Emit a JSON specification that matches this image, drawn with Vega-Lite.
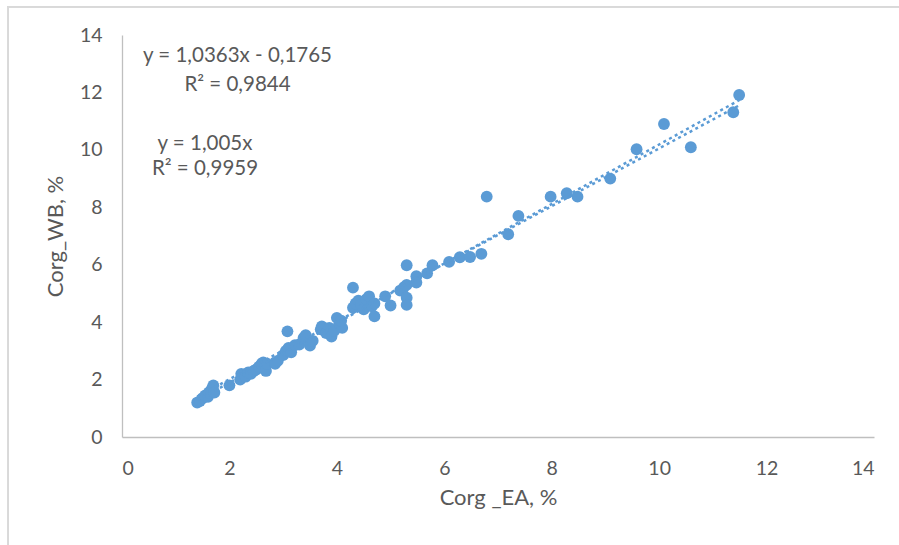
{
  "$schema": "https://vega.github.io/schema/vega-lite/v6.json",
  "width": 752,
  "height": 402,
  "autosize": {"type": "none"},
  "padding": {"left": 122, "top": 35, "right": 25, "bottom": 108},
  "background": "white",
  "config": {
    "view": {"stroke": null},
    "font": "Lato",
    "axis": {
      "domainColor": "#BFBFBF",
      "domainWidth": 1.3,
      "ticks": false,
      "grid": false,
      "labelColor": "#595959",
      "labelFont": "Lato",
      "labelFontSize": 19.5,
      "titleColor": "#595959",
      "titleFont": "Lato",
      "titleFontSize": 22,
      "titleFontWeight": "normal"
    }
  },
  "datasets": {
    "points": [
      {"ea": 1.40, "wb": 1.20}, {"ea": 1.45, "wb": 1.25}, {"ea": 1.50, "wb": 1.35}, {"ea": 1.55, "wb": 1.45},
      {"ea": 1.60, "wb": 1.40}, {"ea": 1.62, "wb": 1.55}, {"ea": 1.65, "wb": 1.60}, {"ea": 1.68, "wb": 1.70},
      {"ea": 1.70, "wb": 1.80}, {"ea": 1.72, "wb": 1.55}, {"ea": 2.00, "wb": 1.80}, {"ea": 2.20, "wb": 2.00},
      {"ea": 2.22, "wb": 2.20}, {"ea": 2.30, "wb": 2.10}, {"ea": 2.35, "wb": 2.25}, {"ea": 2.40, "wb": 2.20},
      {"ea": 2.45, "wb": 2.30}, {"ea": 2.50, "wb": 2.35}, {"ea": 2.55, "wb": 2.45}, {"ea": 2.60, "wb": 2.55},
      {"ea": 2.63, "wb": 2.60}, {"ea": 2.68, "wb": 2.30}, {"ea": 2.70, "wb": 2.55}, {"ea": 2.85, "wb": 2.55},
      {"ea": 2.90, "wb": 2.65}, {"ea": 3.00, "wb": 2.85}, {"ea": 3.05, "wb": 3.00}, {"ea": 3.08, "wb": 3.68},
      {"ea": 3.10, "wb": 3.10}, {"ea": 3.15, "wb": 2.95}, {"ea": 3.22, "wb": 3.20}, {"ea": 3.30, "wb": 3.22},
      {"ea": 3.38, "wb": 3.45}, {"ea": 3.42, "wb": 3.55}, {"ea": 3.50, "wb": 3.18}, {"ea": 3.55, "wb": 3.35},
      {"ea": 3.70, "wb": 3.75}, {"ea": 3.72, "wb": 3.85}, {"ea": 3.80, "wb": 3.62}, {"ea": 3.86, "wb": 3.80},
      {"ea": 3.90, "wb": 3.50}, {"ea": 3.95, "wb": 3.70}, {"ea": 4.00, "wb": 4.15}, {"ea": 4.05, "wb": 3.95},
      {"ea": 4.10, "wb": 3.80}, {"ea": 4.08, "wb": 4.05}, {"ea": 4.30, "wb": 5.20}, {"ea": 4.30, "wb": 4.50},
      {"ea": 4.35, "wb": 4.65}, {"ea": 4.40, "wb": 4.75}, {"ea": 4.45, "wb": 4.60}, {"ea": 4.50, "wb": 4.45},
      {"ea": 4.55, "wb": 4.80}, {"ea": 4.60, "wb": 4.90}, {"ea": 4.65, "wb": 4.55}, {"ea": 4.70, "wb": 4.20},
      {"ea": 4.70, "wb": 4.65}, {"ea": 4.90, "wb": 4.90}, {"ea": 5.00, "wb": 4.58}, {"ea": 5.18, "wb": 5.10},
      {"ea": 5.25, "wb": 5.22}, {"ea": 5.30, "wb": 5.30}, {"ea": 5.30, "wb": 4.85}, {"ea": 5.30, "wb": 4.60},
      {"ea": 5.30, "wb": 5.98}, {"ea": 5.48, "wb": 5.60}, {"ea": 5.48, "wb": 5.38}, {"ea": 5.68, "wb": 5.70},
      {"ea": 5.78, "wb": 5.98}, {"ea": 6.09, "wb": 6.10}, {"ea": 6.29, "wb": 6.26}, {"ea": 6.48, "wb": 6.27},
      {"ea": 6.69, "wb": 6.38}, {"ea": 6.79, "wb": 8.37}, {"ea": 7.19, "wb": 7.06}, {"ea": 7.38, "wb": 7.70},
      {"ea": 7.98, "wb": 8.37}, {"ea": 8.28, "wb": 8.49}, {"ea": 8.48, "wb": 8.37}, {"ea": 9.09, "wb": 9.00},
      {"ea": 9.58, "wb": 10.02}, {"ea": 10.09, "wb": 10.90}, {"ea": 10.59, "wb": 10.09}, {"ea": 11.38, "wb": 11.31},
      {"ea": 11.49, "wb": 11.91}
    ],
    "trends": [
      {"fit": "linear", "ea": 1.40, "wb": 1.2743},
      {"fit": "linear", "ea": 11.49, "wb": 11.7306},
      {"fit": "origin", "ea": 1.40, "wb": 1.4070},
      {"fit": "origin", "ea": 11.49, "wb": 11.5475}
    ],
    "labels": [
      {"ea": 2.15, "wb": 13.27, "text": "y = 1,0363x - 0,1765"},
      {"ea": 2.15, "wb": 12.26, "text": "R² = 0,9844"},
      {"ea": 1.545, "wb": 10.21, "text": "y = 1,005x"},
      {"ea": 1.545, "wb": 9.33, "text": "R² = 0,9959"}
    ]
  },
  "layer": [
    {
      "data": {"name": "points"},
      "mark": {"type": "rect", "fill": null, "stroke": "#D9D9D9", "strokeWidth": 1.2, "clip": false},
      "encoding": {
        "x": {"datum": -2.12, "type": "quantitative", "scale": {"domain": [0, 14], "nice": false}},
        "x2": {"datum": 15.2},
        "y": {"datum": 14.98, "type": "quantitative", "scale": {"domain": [0, 14], "nice": false}},
        "y2": {"datum": -4.5}
      }
    },
    {
      "data": {"name": "points"},
      "mark": {"type": "circle", "size": 140, "color": "#5B9BD5", "opacity": 1},
      "encoding": {
        "x": {
          "field": "ea", "type": "quantitative",
          "scale": {"domain": [0, 14], "nice": false},
          "axis": {"title": "Corg _EA, %", "values": [0, 2, 4, 6, 8, 10, 12, 14], "labelPadding": 22, "titlePadding": 10}
        },
        "y": {
          "field": "wb", "type": "quantitative",
          "scale": {"domain": [0, 14], "nice": false},
          "axis": {"title": "Corg_WB, %", "values": [0, 2, 4, 6, 8, 10, 12, 14], "labelPadding": 20, "titlePadding": 12}
        }
      }
    },
    {
      "data": {"name": "trends"},
      "mark": {"type": "line", "color": "#5B9BD5", "strokeWidth": 2.5, "strokeDash": [3, 3.5]},
      "encoding": {
        "x": {"field": "ea", "type": "quantitative"},
        "y": {"field": "wb", "type": "quantitative"},
        "detail": {"field": "fit"}
      }
    },
    {
      "data": {"name": "labels"},
      "mark": {"type": "text", "color": "#595959", "font": "Lato", "fontSize": 20.5, "align": "center", "baseline": "middle"},
      "encoding": {
        "x": {"field": "ea", "type": "quantitative"},
        "y": {"field": "wb", "type": "quantitative"},
        "text": {"field": "text"}
      }
    }
  ]
}
